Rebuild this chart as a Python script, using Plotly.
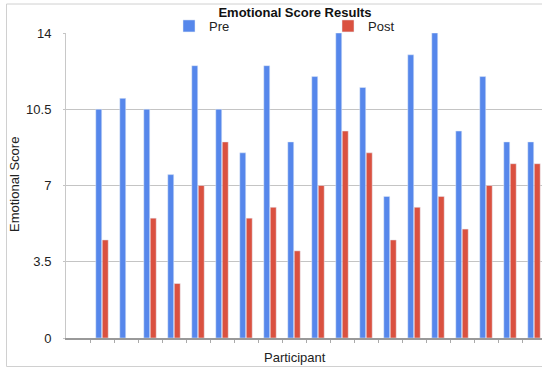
import plotly.graph_objects as go

# Emotional scores for each participant, before and after
participants = list(range(1, 20))
pre_scores = [10.5, 11, 10.5, 7.5, 12.5, 10.5, 8.5, 12.5, 9, 12, 14, 11.5, 6.5, 13, 14, 9.5, 12, 9, 9]
post_scores = [4.5, None, 5.5, 2.5, 7, 9, 5.5, 6, 4, 7, 9.5, 8.5, 4.5, 6, 6.5, 5, 7, 8, 8]
y_ticks = [0, 3.5, 7, 10.5, 14]

W, H = 542, 369
ML, MR, MT, MB = 66, 0, 33, 31
PW, PH = W - ML - MR, H - MT - MB

BLUE = "#5687EB"
RED = "#DA5140"
FONT = "Liberation Sans, Arial, sans-serif"

fig = go.Figure()
fig.add_trace(go.Bar(x=participants, y=pre_scores, name="Pre", marker_color=BLUE))
fig.add_trace(go.Bar(x=participants, y=post_scores, name="Post", marker_color=RED))

# x range: one empty slot before participant 1, chart clipped on the right
slot = 24.0
x_left = -0.5
x_right = x_left + PW / slot

fig.update_layout(
    width=W, height=H,
    margin=dict(l=ML, r=MR, t=MT, b=MB),
    paper_bgcolor="white", plot_bgcolor="white",
    font=dict(family=FONT, size=13, color="#222"),
    barmode="group", bargap=0.46, bargroupgap=0.08,
    title=dict(text="<b>Emotional Score Results</b>", x=295 / W, xanchor="center",
               y=1 - 12 / H, yanchor="middle", font=dict(size=13, color="#111")),
    legend=dict(orientation="h", x=(169 - ML) / PW, xanchor="left",
                y=1 + 7 / PH, yanchor="middle", entrywidth=114, entrywidthmode="pixels",
                font=dict(size=13, color="#222"), bgcolor="rgba(0,0,0,0)",
                itemclick=False),
    showlegend=True,
)

fig.update_xaxes(
    range=[x_left, x_right], showgrid=False, zeroline=False,
    tickmode="array", tickvals=[k + 0.5 for k in range(0, 20)],
    ticktext=["" for _ in range(20)],
    ticks="outside", ticklen=3, tickcolor="#aaa", tickwidth=1,
    showline=True, linecolor="#999", linewidth=1.5,
)
fig.update_yaxes(
    range=[0, 14], tickmode="array", tickvals=y_ticks,
    ticktext=["0", "3.5", "7", "10.5", "14"],
    showgrid=True, gridcolor="#c4c4c4", gridwidth=1, zeroline=False,
    ticks="outside", ticklen=2, tickcolor="#c4c4c4",
    ticklabelstandoff=9, tickfont=dict(size=13, color="#222"),
    showline=True, linecolor="#c8c8c8", linewidth=1,
)

# axis titles
fig.add_annotation(text="Participant", xref="paper", yref="paper",
                   x=(295 - ML) / PW, y=-(357 - MT - PH) / PH, xanchor="center", yanchor="middle",
                   showarrow=False, font=dict(size=13, color="#222"))
fig.add_annotation(text="Emotional Score", xref="paper", yref="paper",
                   x=(14 - ML) / PW, y=1 - (185 - MT) / PH, xanchor="center", yanchor="middle",
                   textangle=-90, showarrow=False, font=dict(size=13, color="#222"))

# thin frame around the chart (left, top and bottom edges)
fx0 = (6.5 - ML) / PW
fx1 = 1.0 + 5 / PW
fy0 = -(366.5 - MT - PH) / PH
fy1 = 1 + (MT - 4) / PH
frame = dict(color="#d0d0d0", width=1)
for x0, y0, x1, y1 in [(fx0, fy0, fx0, fy1), (fx0, fy1, fx1, fy1), (fx0, fy0, fx1, fy0)]:
    fig.add_shape(type="line", xref="paper", yref="paper",
                  x0=x0, y0=y0, x1=x1, y1=y1, line=frame, layer="below")

fig.write_html("out.html")
